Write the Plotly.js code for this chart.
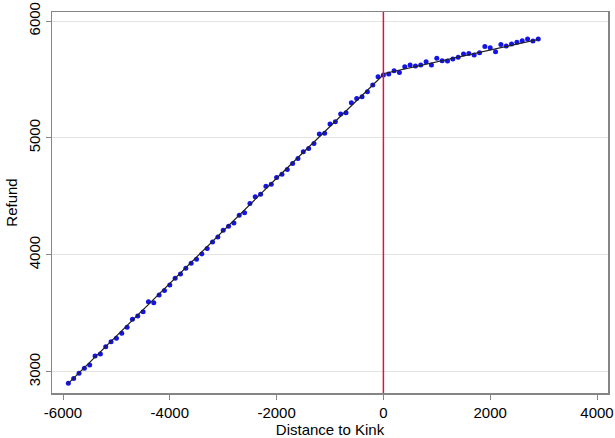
<!DOCTYPE html>
<html>
<head>
<meta charset="utf-8">
<script src="https://cdn.plot.ly/plotly-3.0.1.min.js"></script>
<style>html,body{margin:0;padding:0;background:#fff;}#chart{width:615px;height:438px;}</style>
</head>
<body>
<div id="chart"></div>
<script>
// Binned distance to kink (x) and mean refund (y)
const distance = [-5900,-5800,-5700,-5600,-5500,-5400,-5300,-5200,-5100,-5000,
  -4900,-4800,-4700,-4600,-4500,-4400,-4300,-4200,-4100,-4000,
  -3900,-3800,-3700,-3600,-3500,-3400,-3300,-3200,-3100,-3000,
  -2900,-2800,-2700,-2600,-2500,-2400,-2300,-2200,-2100,-2000,
  -1900,-1800,-1700,-1600,-1500,-1400,-1300,-1200,-1100,-1000,
  -900,-800,-700,-600,-500,-400,-300,-200,-100,0,
  100,200,300,400,500,600,700,800,900,1000,
  1100,1200,1300,1400,1500,1600,1700,1800,1900,2000,
  2100,2200,2300,2400,2500,2600,2700,2800,2900];
const refund = [2901,2943,2986,3029,3057,3134,3152,3214,3257,3286,
  3329,3380,3449,3477,3514,3599,3591,3657,3694,3742,
  3800,3836,3885,3928,3962,4008,4054,4110,4153,4211,
  4245,4273,4339,4359,4439,4496,4519,4587,4604,4662,
  4690,4730,4782,4824,4881,4910,4953,5033,5039,5118,
  5138,5204,5215,5301,5338,5352,5395,5452,5523,5538,
  5546,5575,5560,5608,5623,5615,5623,5652,5623,5681,
  5660,5658,5675,5689,5717,5723,5709,5729,5781,5772,
  5738,5800,5786,5803,5818,5831,5846,5829,5846];
// Fitted line (left and right of the kink)
const fitX = [-5900,-4000,-2000,0,0,2900];
const fitY = [2900,3752,4655,5540,5550,5843];
const kink = 0;
const xTicks = [-6000,-4000,-2000,0,2000,4000];
const yTicks = [3000,4000,5000,6000];

const font = {family:'"Liberation Sans", Arial, sans-serif', size:15, color:'#000'};

const traces = [
  {x:distance, y:refund, type:'scatter', mode:'markers',
   marker:{color:'#1414e6', size:5}, hoverinfo:'skip', showlegend:false},
  {x:fitX, y:fitY, type:'scatter', mode:'lines',
   line:{color:'#202020', width:1.2}, hoverinfo:'skip', showlegend:false}
];

const layout = {
  width:615, height:438,
  margin:{l:52, r:7, t:12, b:45},
  paper_bgcolor:'#fff', plot_bgcolor:'#fff',
  font:font,
  showlegend:false,
  xaxis:{
    range:[-6206,4206], tickvals:xTicks, ticktext:xTicks.map(String),
    showgrid:false, zeroline:false,
    showline:true, linecolor:'#858585', linewidth:1.5, mirror:true,
    ticks:'outside', ticklen:5, tickcolor:'#858585', tickwidth:1,
    tickfont:font,
    title:{text:'Distance to Kink', font:font, standoff:0}
  },
  yaxis:{
    range:[2818,6077], tickvals:yTicks, ticktext:yTicks.map(String),
    showgrid:true, gridcolor:'#e3e3e3', gridwidth:1, zeroline:false,
    showline:true, linecolor:'#858585', linewidth:1.5, mirror:true,
    ticks:'outside', ticklen:5, tickcolor:'#858585', tickwidth:1,
    tickangle:-90, tickfont:font,
    title:{text:'Refund', font:font, standoff:4}
  },
  shapes:[{type:'line', xref:'x', yref:'paper', x0:kink, x1:kink, y0:0, y1:1,
    line:{color:'#dc1446', width:1.5}, layer:'above'}]
};

Plotly.newPlot('chart', traces, layout, {staticPlot:true, displayModeBar:false});
</script>
</body>
</html>
